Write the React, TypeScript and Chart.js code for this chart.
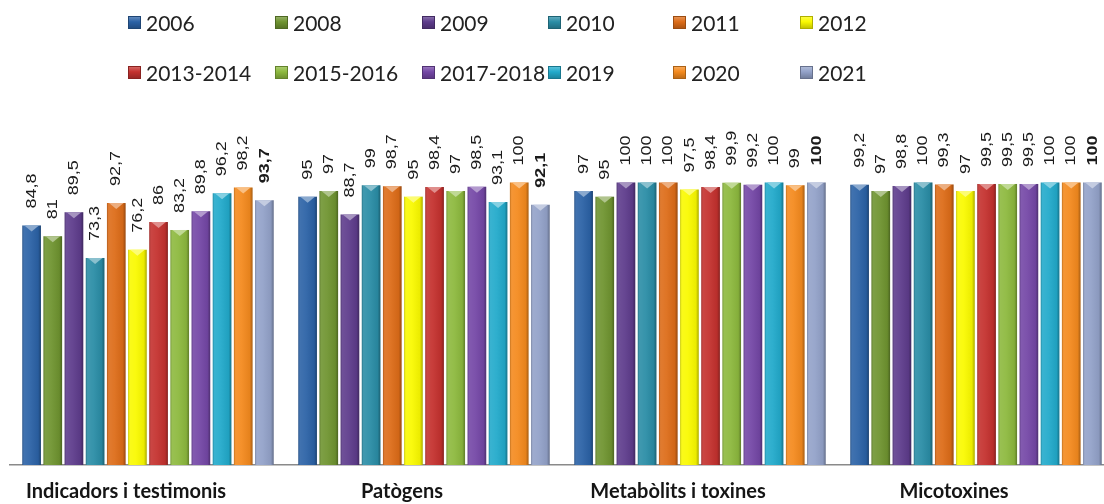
import React, { useEffect, useRef } from "react";
import { Chart, registerables } from "chart.js";

Chart.register(...registerables);

const categories = ["Indicadors i testimonis", "Patògens", "Metabòlits i toxines", "Micotoxines"];
const seriesNames = ["2006", "2008", "2009", "2010", "2011", "2012", "2013-2014", "2015-2016", "2017-2018", "2019", "2020", "2021"];

const v2006 = [84.8, 95, 97, 99.2];
const v2008 = [81, 97, 95, 97];
const v2009 = [89.5, 88.7, 100, 98.8];
const v2010 = [73.3, 99, 100, 100];
const v2011 = [92.7, 98.7, 100, 99.3];
const v2012 = [76.2, 95, 97.5, 97];
const v2013_2014 = [86, 98.4, 98.4, 99.5];
const v2015_2016 = [83.2, 97, 99.9, 99.5];
const v2017_2018 = [89.8, 98.5, 99.2, 99.5];
const v2019 = [96.2, 93.1, 100, 100];
const v2020 = [98.2, 100, 99, 100];
const v2021 = [93.7, 92.1, 100, 100];

const seriesValues = [v2006, v2008, v2009, v2010, v2011, v2012, v2013_2014, v2015_2016, v2017_2018, v2019, v2020, v2021];

const seriesColors = [
  "#2B62A6", "#6F9430", "#5E3C8C", "#2A8DA6", "#DD6C18", "#FAFA00",
  "#C4312E", "#8DB93E", "#7447A6", "#22AACB", "#F48A1E", "#93A2C9",
];
const boldSeries = ["2021"];

// legend layout (grid of 6 columns x 2 rows)
const legendColumnsX = [128, 275, 422, 548, 673, 800];
const legendRowsY = [22, 72];

function hexToRgb(hex: string) {
  const n = parseInt(hex.slice(1), 16);
  return [(n >> 16) & 255, (n >> 8) & 255, n & 255];
}
function shade(hex: string, f: number) {
  const [r, g, b] = hexToRgb(hex);
  const m = (c: number) => Math.max(0, Math.min(255, Math.round(f < 0 ? c * (1 + f) : c + (255 - c) * f)));
  return `rgb(${m(r)},${m(g)},${m(b)})`;
}

const bevelPlugin = {
  id: "bevel",
  afterDatasetsDraw(chart: any) {
    const ctx = chart.ctx;
    chart.data.datasets.forEach((ds: any, di: number) => {
      const meta = chart.getDatasetMeta(di);
      const color = seriesColors[di];
      meta.data.forEach((bar: any) => {
        const { x, y, base, width } = bar.getProps(["x", "y", "base", "width"], true);
        const left = x - width / 2;
        const h = base - y;
        ctx.save();
        const g = ctx.createLinearGradient(left, 0, left + width, 0);
        g.addColorStop(0, "rgba(0,0,0,0.22)");
        g.addColorStop(0.1, "rgba(255,255,255,0.10)");
        g.addColorStop(0.4, "rgba(255,255,255,0.06)");
        g.addColorStop(0.85, "rgba(0,0,0,0.06)");
        g.addColorStop(1, "rgba(0,0,0,0.32)");
        ctx.fillStyle = g;
        ctx.fillRect(left, y, width, h);
        ctx.fillStyle = shade(color, 0.45);
        ctx.beginPath();
        ctx.moveTo(left + 2, y);
        ctx.lineTo(left + width - 2, y);
        ctx.lineTo(x, y + 6);
        ctx.closePath();
        ctx.fill();
        ctx.restore();
      });
    });
  },
};

const barLabelPlugin = {
  id: "barLabels",
  afterDatasetsDraw(chart: any) {
    const ctx = chart.ctx;
    chart.data.datasets.forEach((ds: any, di: number) => {
      const meta = chart.getDatasetMeta(di);
      const bold = boldSeries.includes(ds.label);
      meta.data.forEach((bar: any, i: number) => {
        const v = ds.data[i];
        const text = String(v).replace(".", ",");
        const { x, y } = bar.getProps(["x", "y"], true);
        ctx.save();
        ctx.translate(x, y - 17);
        ctx.rotate(-Math.PI / 2);
        ctx.scale(1.2, 1);
        ctx.font = `${bold ? "bold " : ""}15px "Liberation Sans", Arial, sans-serif`;
        ctx.fillStyle = "#1b1b1b";
        ctx.textAlign = "left";
        ctx.textBaseline = "middle";
        ctx.fillText(text, 0, 0);
        ctx.restore();
      });
    });
  },
};

function Legend() {
  return (
    <>
      {seriesNames.map((name, i) => {
        const col = i % 6;
        const row = Math.floor(i / 6);
        const c = seriesColors[i];
        return (
          <div
            key={name}
            style={{
              position: "absolute",
              left: legendColumnsX[col],
              top: legendRowsY[row] - 13,
              height: 26,
              display: "flex",
              alignItems: "center",
              whiteSpace: "nowrap",
              font: '21px Lato, "DejaVu Sans", sans-serif',
              color: "#222",
            }}
          >
            <span
              style={{
                display: "inline-block",
                width: 13,
                height: 13,
                marginRight: 5,
                background: `linear-gradient(to bottom, ${shade(c, 0.3)} 0%, ${c} 45%, ${shade(c, -0.25)} 100%)`,
                boxShadow: `inset 0 0 0 1px ${shade(c, -0.3)}`,
              }}
            />
            <span>{name}</span>
          </div>
        );
      })}
    </>
  );
}

export default function App() {
  const ref = useRef<HTMLCanvasElement | null>(null);
  useEffect(() => {
    if (!ref.current) return;
    const chart = new Chart(ref.current, {
      type: "bar",
      data: {
        labels: categories,
        datasets: seriesNames.map((name, i) => ({
          label: name,
          data: seriesValues[i],
          backgroundColor: seriesColors[i],
          borderWidth: 0,
          categoryPercentage: 0.92,
          barPercentage: 0.88,
        })),
      },
      options: {
        animation: false,
        responsive: false,
        maintainAspectRatio: false,
        layout: { padding: { left: 10, right: 0, top: 126, bottom: 1 } },
        plugins: {
          legend: { display: false },
          tooltip: { enabled: false },
          title: { display: false },
        },
        scales: {
          x: {
            grid: { display: false, drawTicks: false },
            border: { display: true, color: "#8a8a8a", width: 1.5 },
            ticks: {
              padding: 15,
              labelOffset: -22,
              maxRotation: 0,
              color: "#151515",
              font: { family: 'Lato, "Open Sans", sans-serif', size: 20, weight: "bold" },
            },
          },
          y: {
            display: false,
            min: 0,
            max: 120,
          },
        },
      },
      plugins: [bevelPlugin, barLabelPlugin],
    });
    return () => chart.destroy();
  }, []);

  return (
    <div
      style={{
        position: "fixed",
        left: 0,
        top: 0,
        width: 1104,
        height: 504,
        overflow: "hidden",
        background: "#fff",
      }}
    >
      <canvas ref={ref} width={1114} height={520} style={{ position: "absolute", left: 0, top: 0, width: 1114, height: 520 }} />
      <Legend />
    </div>
  );
}
